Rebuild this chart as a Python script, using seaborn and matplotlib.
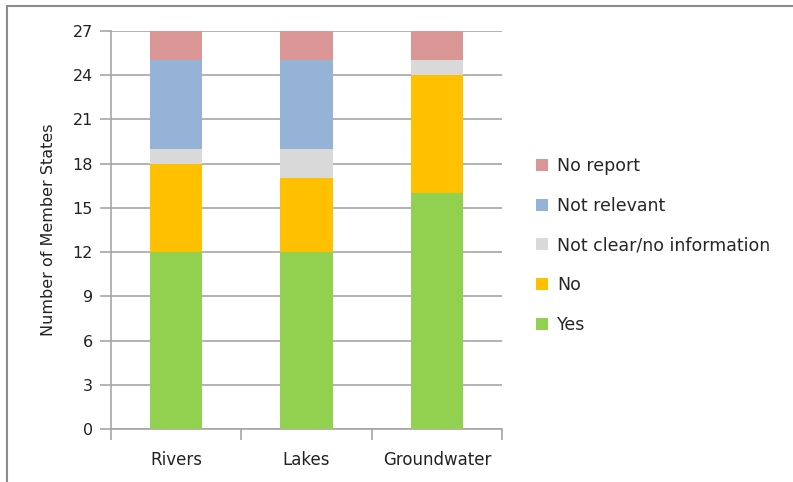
import matplotlib
matplotlib.use("Agg")
import matplotlib.pyplot as plt
from matplotlib.patches import Patch
import numpy as np
import pandas as pd
import seaborn as sns

categories = ["Rivers", "Lakes", "Groundwater"]
series = ["Yes", "No", "Not clear/no information", "Not relevant", "No report"]
yes = [12, 12, 16]
no = [6, 5, 8]
not_clear = [1, 2, 1]
not_relevant = [6, 6, 0]
no_report = [2, 2, 2]
y_ticks = [0, 3, 6, 9, 12, 15, 18, 21, 24, 27]

colors = {
    "Yes": "#92D050",
    "No": "#FFC000",
    "Not clear/no information": "#D9D9D9",
    "Not relevant": "#95B3D7",
    "No report": "#D99694",
}

values = {
    "Yes": yes,
    "No": no,
    "Not clear/no information": not_clear,
    "Not relevant": not_relevant,
    "No report": no_report,
}

# cumulative tops of each stacked segment
rows = []
running = np.zeros(len(categories))
for s in series:
    running = running + np.array(values[s])
    for c, top in zip(categories, running):
        rows.append({"category": c, "series": s, "top": top})
df = pd.DataFrame(rows)

sns.set_style("white")
plt.rcParams["font.family"] = ["DejaVu Sans"]
text_color = "#222222"

fig = plt.figure(figsize=(7.93, 4.82), dpi=100)
ax = fig.add_axes([111 / 793, 1 - 429 / 482, (502 - 111) / 793, (429 - 31) / 482])

# draw from the top segment down so lower segments cover the upper bars
for s in reversed(series):
    sub = df[df["series"] == s]
    sns.barplot(data=sub, x="category", y="top", order=categories,
                color=colors[s], width=0.4, saturation=1, ax=ax,
                edgecolor="none", linewidth=0, zorder=3)

ax.set_xlim(-0.5, 2.5)
ax.set_ylim(0, 27)
ax.set_yticks(y_ticks)
ax.set_yticklabels([str(t) for t in y_ticks], fontsize=11.5, color=text_color)
ax.yaxis.grid(True, color="#a6a6a6", linewidth=1.2, zorder=0)
ax.set_axisbelow(True)
ax.tick_params(axis="y", length=8, width=1.2, color="#a6a6a6", pad=5, left=True)
ax.set_xticks([0, 1, 2])
ax.set_xticklabels(categories, fontsize=12, color=text_color)
ax.tick_params(axis="x", length=0, pad=16)
# category separator ticks on the x axis
ax.set_xticks([-0.5, 0.5, 1.5, 2.5], minor=True)
ax.tick_params(axis="x", which="minor", length=8, width=1.2, color="#a6a6a6", bottom=True)

for side in ["top", "right"]:
    ax.spines[side].set_visible(False)
for side in ["left", "bottom"]:
    ax.spines[side].set_color("#a6a6a6")
    ax.spines[side].set_linewidth(1.2)

ax.set_xlabel("")
ax.set_ylabel("Number of Member States", fontsize=11.5, color=text_color, labelpad=12)

handles = [Patch(facecolor=colors[s], edgecolor="none", label=s) for s in reversed(series)]
fig.legend(handles=handles, loc="upper left", bbox_to_anchor=(536 / 793, 1 - 157 / 482),
           frameon=False, fontsize=12.5, handlelength=0.7, handleheight=0.7,
           handletextpad=0.5, labelspacing=1.25, borderaxespad=0, borderpad=0)

# outer frame lines along the top and left edges
fig.add_artist(plt.Line2D([7 / 793, 1], [1 - 6 / 482, 1 - 6 / 482], transform=fig.transFigure,
                          color="#8c8c8c", linewidth=1.5))
fig.add_artist(plt.Line2D([7 / 793, 7 / 793], [0, 1 - 6 / 482], transform=fig.transFigure,
                          color="#8c8c8c", linewidth=1.5))

fig.savefig("out.png", dpi=100)
